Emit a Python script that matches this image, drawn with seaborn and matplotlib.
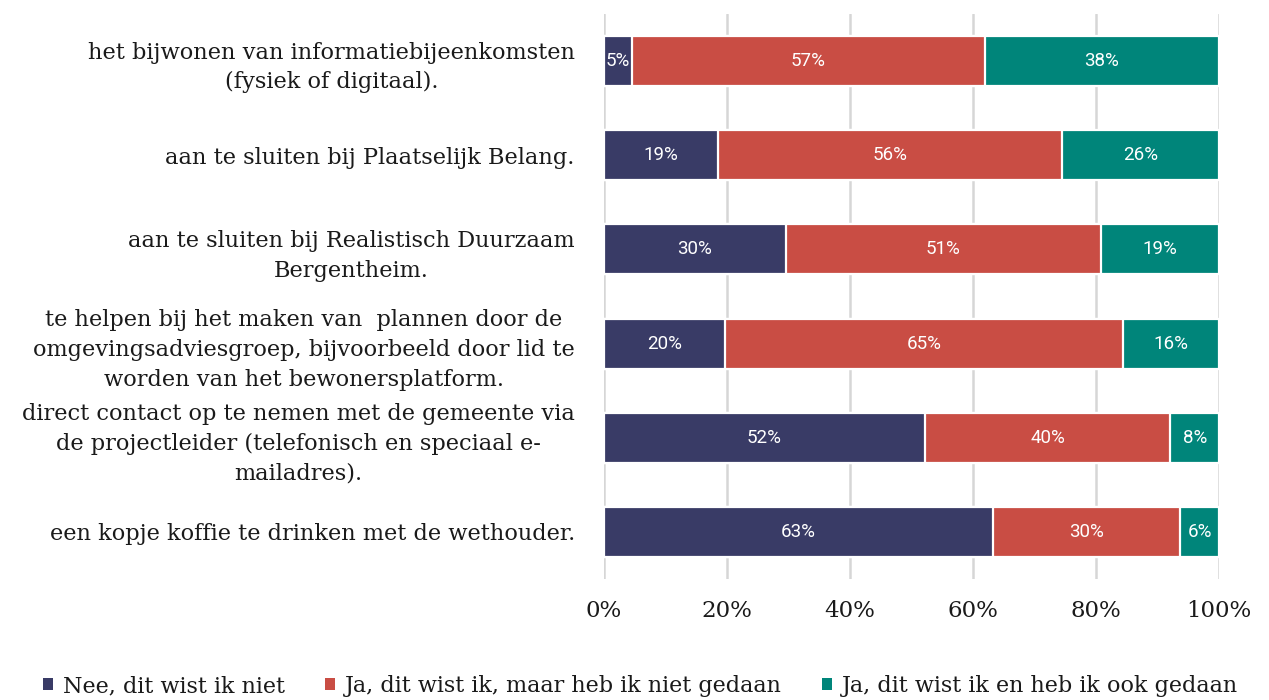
import matplotlib
matplotlib.use("Agg")
import matplotlib.pyplot as plt
from matplotlib.patches import Patch
import seaborn as sns
import numpy as np
import pandas as pd

categories = [
    "het bijwonen van informatiebijeenkomsten\n(fysiek of digitaal).",
    "aan te sluiten bij Plaatselijk Belang.",
    "aan te sluiten bij Realistisch Duurzaam\nBergentheim.",
    "te helpen bij het maken van  plannen door de\nomgevingsadviesgroep, bijvoorbeeld door lid te\nworden van het bewonersplatform.",
    "direct contact op te nemen met de gemeente via\nde projectleider (telefonisch en speciaal e-\nmailadres).",
    "een kopje koffie te drinken met de wethouder.",
]
series_names = [
    "Nee, dit wist ik niet",
    "Ja, dit wist ik, maar heb ik niet gedaan",
    "Ja, dit wist ik en heb ik ook gedaan",
]
nee = [4.6, 18.6, 29.6, 19.6, 52.2, 63.3]
ja_niet = [57.3, 55.8, 51.2, 64.8, 39.9, 30.4]
ja_ook = [38.1, 25.6, 19.2, 15.6, 7.9, 6.3]
colors = ["#393b66", "#c94d44", "#00857a"]
xticks = [0, 20, 40, 60, 80, 100]
xticklabels = ["0%", "20%", "40%", "60%", "80%", "100%"]

sns.set_theme(style="white")
serif = ["DejaVu Serif"]
plt.rcParams["font.family"] = serif

fig = plt.figure(figsize=(12.69, 7.0), dpi=100)
ax = fig.add_axes([604 / 1269, 1 - 579 / 700, 615 / 1269, 565 / 700])

vals = np.array([nee, ja_niet, ja_ook])
cum = vals.cumsum(axis=0)

ax.set_axisbelow(True)
ax.xaxis.grid(True, color="#d6d6d6", linewidth=1.8)
ax.yaxis.grid(False)

for i in range(2, -1, -1):
    df = pd.DataFrame({"cat": categories, "val": cum[i]})
    sns.barplot(data=df, x="val", y="cat", orient="h", color=colors[i],
                saturation=1, width=0.53, edgecolor="white", linewidth=1.6,
                ax=ax, zorder=2)

for i in range(3):
    for j in range(len(categories)):
        v = vals[i, j]
        xc = cum[i, j] - v / 2
        ax.text(xc, j, f"{v:.0f}%", ha="center", va="center", color="white",
                fontsize=13.5, family="Roboto", zorder=3)

ax.set_xlim(0, 100)
ax.set_ylim(5.5, -0.5)
ax.set_xticks(xticks)
ax.set_xticklabels(xticklabels, fontsize=16.5)
ax.set_xlabel("")
ax.set_ylabel("")
for s in ax.spines.values():
    s.set_visible(False)
ax.tick_params(axis="x", length=0, pad=15, colors="#1a1a1a")
ax.tick_params(axis="y", length=0, pad=21, colors="#1a1a1a")
for lab in ax.get_yticklabels():
    lab.set_fontsize(16.2)
    lab.set_multialignment("center")
    lab.set_linespacing(1.45)

handles = [Patch(facecolor=c, edgecolor="none") for c in colors]
fig.legend(handles, series_names, loc="center", bbox_to_anchor=(0.505, 0.02),
           ncol=3, frameon=False, fontsize=16, handlelength=0.45, handleheight=0.45,
           handletextpad=0.45, columnspacing=1.8, labelcolor="#1a1a1a")

fig.savefig("out.png", dpi=100)
